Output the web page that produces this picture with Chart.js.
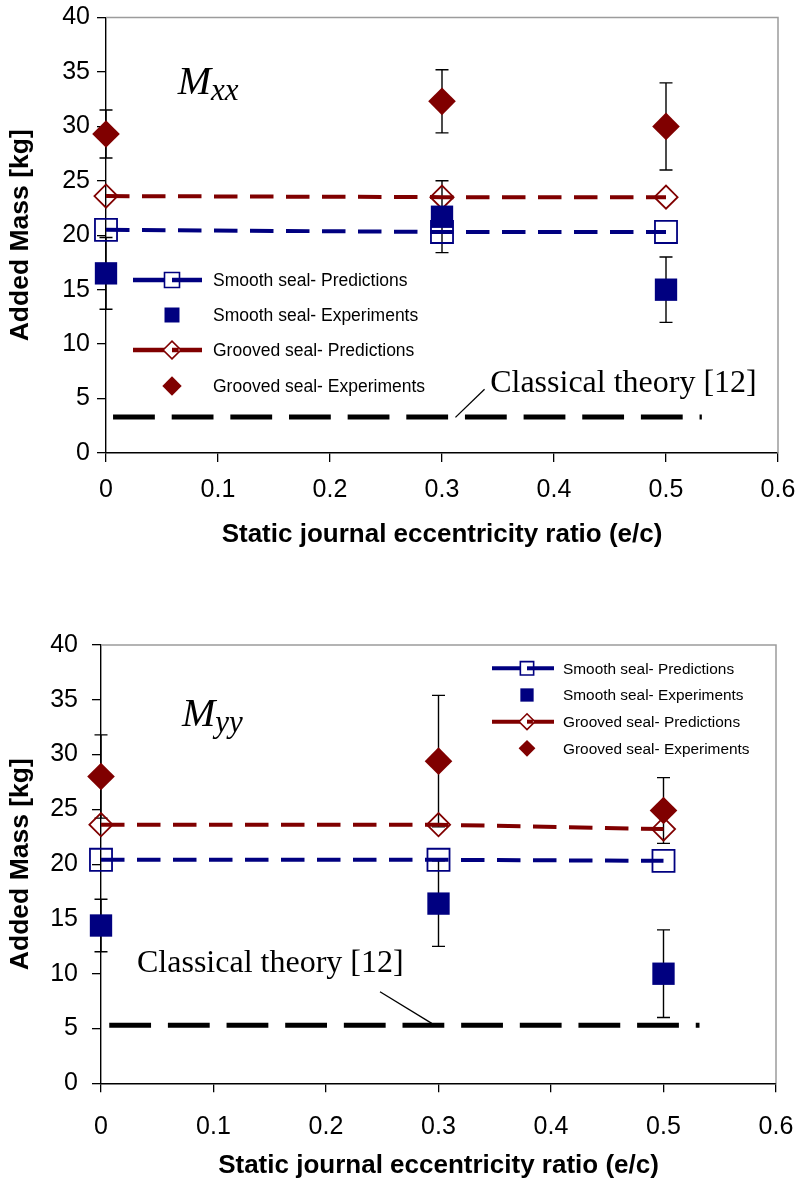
<!DOCTYPE html>
<html>
<head>
<title>Added Mass vs eccentricity</title>
<script src="https://cdn.jsdelivr.net/npm/chart.js"></script>
<style>
  body { margin: 0; background: #fff; }
  .wrap { position: relative; width: 797px; height: 1184px; }
  canvas { position: absolute; left: 0; }
</style>
</head>
<body>
<div class="wrap">
  <canvas id="chartXX" width="797" height="570" style="top:0"></canvas>
  <canvas id="chartYY" width="797" height="614" style="top:570px"></canvas>
</div>
<script>
// x positions of the measurements (static eccentricity ratio e/c)
const ecc = [0, 0.3, 0.5];
const classicalX = [0, 0.532];

const xTickValues = [0, 0.1, 0.2, 0.3, 0.4, 0.5, 0.6];
const xTickLabels = ['0', '0.1', '0.2', '0.3', '0.4', '0.5', '0.6'];
const yTickValues = [0, 5, 10, 15, 20, 25, 30, 35, 40];
const yTickLabels = ['0', '5', '10', '15', '20', '25', '30', '35', '40'];

const seriesNames = ['Smooth seal- Predictions', 'Smooth seal- Experiments',
                     'Grooved seal- Predictions', 'Grooved seal- Experiments'];

// Mxx
const smoothPredXX = [20.5, 20.3, 20.3];
const smoothExpXX = [16.5, 21.7, 15.0];
const smoothErrXX = [3.3, 3.3, 3.0];
const groovedPredXX = [23.6, 23.5, 23.5];
const groovedExpXX = [29.3, 32.3, 30.0];
const groovedErrXX = [2.2, 2.9, 4.0];
const classicalXX = [3.3, 3.3];

// Myy
const smoothPredYY = [20.4, 20.4, 20.3];
const smoothExpYY = [14.4, 16.4, 10.0];
const smoothErrYY = [2.4, 3.9, 4.0];
const groovedPredYY = [23.6, 23.6, 23.2];
const groovedExpYY = [28.0, 29.4, 24.9];
const groovedErrYY = [3.8, 6.0, 3.0];
const classicalYY = [5.3, 5.3];

const NAVY = '#000080';
const MAROON = '#800000';
const SANS = '"Liberation Sans", Arial, sans-serif';
const SERIF = '"Liberation Serif", "Times New Roman", serif';

function pts(xs, ys) {
    return xs.map((x, i) => ({x: x, y: ys[i]}));
}

function markerPath(ctx, style, x, y, r) {
    ctx.beginPath();
    if (style === 'rect') {
        const s = r * Math.SQRT1_2;
        ctx.rect(x - s, y - s, 2 * s, 2 * s);
    } else {
        ctx.moveTo(x - r, y);
        ctx.lineTo(x, y - r);
        ctx.lineTo(x + r, y);
        ctx.lineTo(x, y + r);
        ctx.closePath();
    }
}

// error bars under the markers
const errorBars = {
    id: 'errorBars',
    beforeDatasetsDraw(chart) {
        const ctx = chart.ctx;
        const xs = chart.scales.x, ys = chart.scales.y;
        ctx.save();
        ctx.strokeStyle = '#000';
        ctx.lineWidth = 1.4;
        chart.data.datasets.forEach(ds => {
            if (!ds.errors) return;
            ds.data.forEach((p, i) => {
                const px = xs.getPixelForValue(p.x);
                const hi = ys.getPixelForValue(p.y + ds.errors[i]);
                const lo = ys.getPixelForValue(p.y - ds.errors[i]);
                ctx.beginPath();
                ctx.moveTo(px, hi); ctx.lineTo(px, lo);
                ctx.moveTo(px - 6.5, hi); ctx.lineTo(px + 6.5, hi);
                ctx.moveTo(px - 6.5, lo); ctx.lineTo(px + 6.5, lo);
                ctx.stroke();
            });
        });
        // grey frame on top and right
        const a = chart.chartArea;
        ctx.strokeStyle = '#9c9c9c';
        ctx.lineWidth = 1.5;
        ctx.beginPath();
        ctx.moveTo(a.left, a.top); ctx.lineTo(a.right, a.top); ctx.lineTo(a.right, a.bottom);
        ctx.stroke();
        ctx.restore();
    }
};

// legend, panel label and the classical theory note
const extras = {
    id: 'extras',
    afterDraw(chart, args, opts) {
        const ctx = chart.ctx;
        const xs = chart.scales.x, ys = chart.scales.y;
        const lg = opts.legend;
        ctx.save();
        chart.data.datasets.slice(0, 4).forEach((ds, i) => {
            const y = lg.rows[i];
            const color = ds.pointBackgroundColor === 'transparent' ? ds.pointBorderColor : ds.pointBackgroundColor;
            const r = lg.radius[i];
            if (ds.showLine) {
                ctx.strokeStyle = ds.borderColor;
                ctx.lineWidth = lg.lineW;
                ctx.beginPath(); ctx.moveTo(lg.lineX[0], y); ctx.lineTo(lg.lineX[1], y); ctx.stroke();
                markerPath(ctx, ds.pointStyle, lg.markX, y, r);
                ctx.fillStyle = '#fff'; ctx.fill();
                ctx.lineWidth = 1.6; ctx.strokeStyle = ds.pointBorderColor; ctx.stroke();
                ctx.lineWidth = lg.lineW; ctx.strokeStyle = ds.borderColor;
                ctx.beginPath(); ctx.moveTo(lg.markX, y); ctx.lineTo(lg.markX + r * 0.75, y); ctx.stroke();
            } else {
                markerPath(ctx, ds.pointStyle, lg.markX, y, r);
                ctx.fillStyle = color; ctx.fill();
            }
            ctx.fillStyle = '#000';
            ctx.font = lg.font + 'px ' + SANS;
            ctx.textBaseline = 'middle';
            ctx.textAlign = 'left';
            ctx.fillText(ds.label, lg.textX, y + 1);
        });

        const n = opts.notes;
        // panel label M with subscript
        ctx.fillStyle = '#000';
        ctx.textBaseline = 'alphabetic';
        ctx.font = 'italic 40px ' + SERIF;
        const mx = xs.getPixelForValue(n.panel.x), my = ys.getPixelForValue(n.panel.y);
        ctx.fillText('M', mx, my);
        const mw = ctx.measureText('M').width;
        ctx.font = 'italic 31px ' + SERIF;
        ctx.fillText(n.panel.sub, mx + mw, my + 6);

        // classical theory note and its leader
        ctx.font = '32px ' + SERIF;
        ctx.fillText('Classical theory [12]', xs.getPixelForValue(n.text.x), ys.getPixelForValue(n.text.y));
        ctx.strokeStyle = '#000';
        ctx.lineWidth = 1.3;
        ctx.beginPath();
        ctx.moveTo(xs.getPixelForValue(n.leader[0][0]), ys.getPixelForValue(n.leader[0][1]));
        ctx.lineTo(xs.getPixelForValue(n.leader[1][0]), ys.getPixelForValue(n.leader[1][1]));
        ctx.stroke();
        ctx.restore();
    }
};

function buildChart(id, d, look) {
    const ctx = document.getElementById(id).getContext('2d');
    return new Chart(ctx, {
        type: 'scatter',
        data: {
            datasets: [{
                label: seriesNames[0],
                data: pts(ecc, d.smoothPred),
                showLine: true,
                borderColor: NAVY,
                borderWidth: 4,
                borderDash: [23.5, 12.5],
                pointStyle: 'rect',
                pointRadius: 15.6,
                pointBorderWidth: 1.8,
                pointBorderColor: NAVY,
                pointBackgroundColor: 'transparent',
                order: 2,
                clip: false
            }, {
                label: seriesNames[1],
                data: pts(ecc, d.smoothExp),
                showLine: false,
                pointStyle: 'rect',
                pointRadius: 15.8,
                pointBorderWidth: 0,
                pointBackgroundColor: NAVY,
                errors: d.smoothErr,
                order: 0,
                clip: false
            }, {
                label: seriesNames[2],
                data: pts(ecc, d.groovedPred),
                showLine: true,
                borderColor: MAROON,
                borderWidth: 4,
                borderDash: [23.5, 12.5],
                pointStyle: 'rectRot',
                pointRadius: 11.6,
                pointBorderWidth: 1.8,
                pointBorderColor: MAROON,
                pointBackgroundColor: 'transparent',
                order: 2,
                clip: false
            }, {
                label: seriesNames[3],
                data: pts(ecc, d.groovedExp),
                showLine: false,
                pointStyle: 'rectRot',
                pointRadius: 13.8,
                pointBorderWidth: 0,
                pointBackgroundColor: MAROON,
                errors: d.groovedErr,
                order: 0,
                clip: false
            }, {
                label: 'Classical theory [12]',
                data: pts(classicalX, d.classical),
                showLine: true,
                borderColor: '#000',
                borderWidth: 5,
                borderDash: [41.8, 16.85],
                borderDashOffset: look.classicalOffset,
                pointRadius: 0,
                order: 3,
                clip: false
            }]
        },
        options: {
            responsive: false,
            animation: false,
            events: [],
            layout: { padding: { top: look.padTop, right: look.padRight, bottom: 0, left: 0 } },
            plugins: {
                legend: { display: false },
                tooltip: { enabled: false },
                extras: { legend: look.legend, notes: look.notes }
            },
            scales: {
                x: {
                    type: 'linear',
                    min: 0,
                    max: 0.6,
                    afterBuildTicks: s => { s.ticks = xTickValues.map(v => ({value: v})); },
                    afterFit: s => { s.height = look.xHeight; s.paddingLeft = 0; s.paddingRight = 0; },
                    ticks: {
                        callback: (v, i) => xTickLabels[i],
                        padding: look.xTickPad,
                        color: '#000',
                        font: { family: SANS, size: 25 },
                        maxRotation: 0
                    },
                    grid: { drawOnChartArea: false, drawTicks: true, tickLength: 9, color: '#000', lineWidth: 1.3 },
                    border: { color: '#000', width: 1.4 },
                    title: {
                        display: true,
                        text: 'Static journal eccentricity ratio (e/c)',
                        color: '#000',
                        font: { family: SANS, size: 26, weight: 'bold' },
                        padding: { top: 0, bottom: look.xTitlePad }
                    }
                },
                y: {
                    type: 'linear',
                    min: 0,
                    max: 40,
                    afterBuildTicks: s => { s.ticks = yTickValues.map(v => ({value: v})); },
                    afterFit: s => { s.width = look.yWidth; s.paddingTop = 0; s.paddingBottom = 0; },
                    ticks: {
                        callback: (v, i) => yTickLabels[i],
                        padding: look.yTickPad,
                        color: '#000',
                        font: { family: SANS, size: 25 }
                    },
                    grid: { drawOnChartArea: false, drawTicks: true, tickLength: 9, color: '#000', lineWidth: 1.3 },
                    border: { color: '#000', width: 1.4 },
                    title: {
                        display: true,
                        text: 'Added Mass [kg]',
                        color: '#000',
                        font: { family: SANS, size: 26.5, weight: 'bold' },
                        padding: { top: 4.5, bottom: 0 }
                    }
                }
            }
        },
        plugins: [errorBars, extras]
    });
}

buildChart('chartXX', {
    smoothPred: smoothPredXX, smoothExp: smoothExpXX, smoothErr: smoothErrXX,
    groovedPred: groovedPredXX, groovedExp: groovedExpXX, groovedErr: groovedErrXX,
    classical: classicalXX
}, {
    padTop: 17.5, padRight: 19, yWidth: 106, xHeight: 117,
    xTickPad: 13.5, yTickPad: 7, xTitlePad: 20, classicalOffset: 51.6,
    legend: { rows: [280, 315, 350, 386], lineX: [133, 202], markX: 172, textX: 213,
              font: 17.5, lineW: 4.5, radius: [10.6, 10.6, 8.9, 9.7] },
    notes: { panel: { x: 0.064, y: 33.0, sub: 'xx' }, text: { x: 0.343, y: 5.6 },
             leader: [[0.312, 3.27], [0.338, 5.85]] }
});

buildChart('chartYY', {
    smoothPred: smoothPredYY, smoothExp: smoothExpYY, smoothErr: smoothErrYY,
    groovedPred: groovedPredYY, groovedExp: groovedExpYY, groovedErr: groovedErrYY,
    classical: classicalYY
}, {
    padTop: 75, padRight: 21, yWidth: 101, xHeight: 100.7,
    xTickPad: 19.5, yTickPad: 14, xTitlePad: 2.2, classicalOffset: 50.4,
    legend: { rows: [98.3, 125, 151.7, 178.3], lineX: [492, 554], markX: 527, textX: 563,
              font: 15.4, lineW: 4, radius: [9.4, 9.4, 7.9, 8.4] },
    notes: { panel: { x: 0.072, y: 32.6, sub: 'yy' }, text: { x: 0.032, y: 10.2 },
             leader: [[0.248, 8.36], [0.294, 5.47]] }
});
</script>
</body>
</html>
